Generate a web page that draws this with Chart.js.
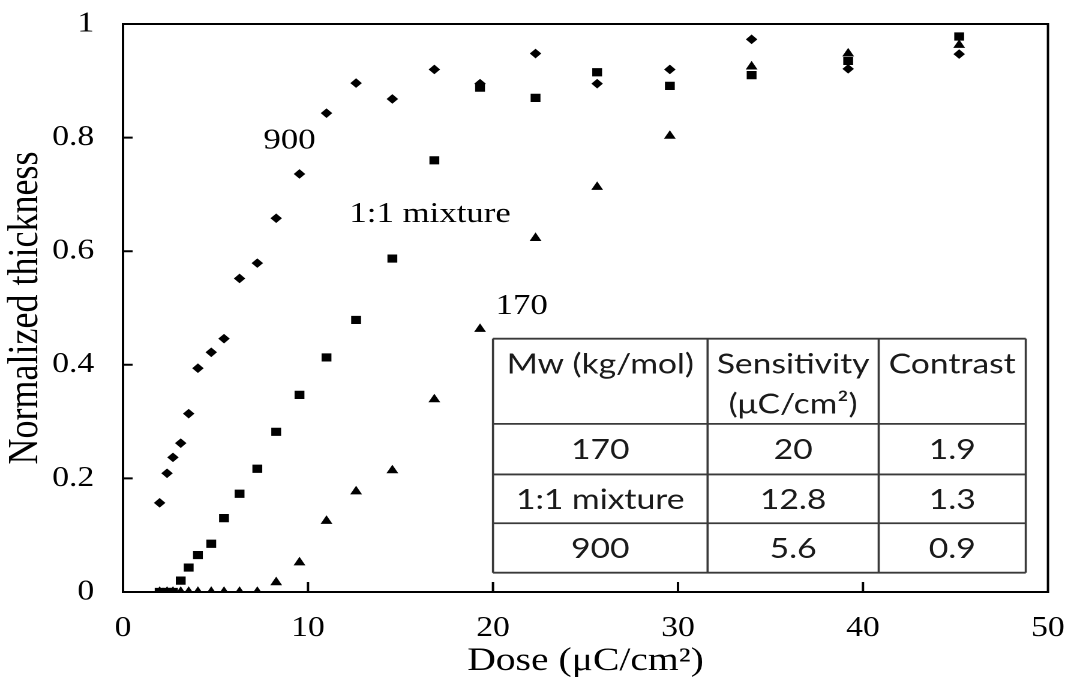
<!DOCTYPE html>
<html>
<head>
<meta charset="utf-8">
<script src="https://cdn.jsdelivr.net/npm/chart.js@4.4.1/dist/chart.umd.min.js"></script>
<style>
  html, body { margin: 0; padding: 0; background: #fff; overflow: hidden; }
  #wrap { position: absolute; left: 0; top: 0; width: 890px; height: 690px;
          transform: scaleX(1.2); transform-origin: 0 0; }
</style>
</head>
<body>
<div id="wrap"><canvas id="c"></canvas></div>
<script>
// ---- data ----
const doses    = [1.98, 2.38, 2.70, 3.12, 3.55, 4.05, 4.77, 5.46, 6.30, 7.26, 8.28, 9.54, 11.0, 12.6, 14.56, 16.83, 19.3, 22.3, 25.63, 29.56, 33.98, 39.2, 45.2];
const thick900 = [0.157, 0.209, 0.237, 0.262, 0.314, 0.394, 0.422, 0.446, 0.552, 0.579, 0.658, 0.736, 0.843, 0.896, 0.868, 0.920, 0.895, 0.948, 0.895, 0.920, 0.973, 0.921, 0.947];
const thickMix = [0, 0, 0, 0.020, 0.043, 0.065, 0.085, 0.130, 0.173, 0.217, 0.282, 0.347, 0.413, 0.479, 0.587, 0.760, 0.888, 0.870, 0.915, 0.891, 0.910, 0.935, 0.978];
const thick170 = [0, 0, 0, 0, 0, 0, 0, 0, 0, 0, 0.017, 0.052, 0.125, 0.177, 0.214, 0.339, 0.463, 0.623, 0.713, 0.803, 0.925, 0.948, 0.963];
const seriesNames = ['900', '1:1 mixture', '170'];
const xTickValues = [0, 10, 20, 30, 40, 50];
const yTickValues = [0, 0.2, 0.4, 0.6, 0.8, 1];
const tableHead   = [['Mw (kg/mol)'], ['Sensitivity', '(\u03BCC/cm\u00B2)'], ['Contrast']];
const tableMw     = ['170', '1:1 mixture', '900'];
const tableSens   = ['20', '12.8', '5.6'];
const tableCon    = ['1.9', '1.3', '0.9'];

// ---- layout / style (not data) ----
const serif = '"Liberation Serif", "Times New Roman", serif';
const sans  = 'Lato, "Open Sans", sans-serif';
const labelAnchors = [[9.0, 0.794], [16.6, 0.665], [21.55, 0.503]];   // where series names are written
const tableCols = [20, 31.6, 40.85, 48.8];          // column edges in dose units
const tableRows = [0.446, 0.296, 0.207, 0.121, 0.034]; // row edges in thickness units

function pts(ys) { return doses.map((d, i) => ({ x: d, y: ys[i] })); }

const framePlugin = {
  id: 'frame',
  afterDatasetsDraw(chart) {
    const { ctx, chartArea: a, scales: { x, y } } = chart;
    ctx.save();
    ctx.strokeStyle = '#000';
    ctx.lineWidth = 2;
    ctx.strokeRect(a.left, a.top, a.right - a.left, a.bottom - a.top);
    // inward tick marks
    ctx.beginPath();
    xTickValues.slice(1, -1).forEach(v => {
      const px = x.getPixelForValue(v);
      ctx.moveTo(px, a.bottom); ctx.lineTo(px, a.bottom - 10);
    });
    yTickValues.slice(1, -1).forEach(v => {
      const py = y.getPixelForValue(v);
      ctx.moveTo(a.left, py); ctx.lineTo(a.left + 8, py);
    });
    ctx.stroke();

    // series name annotations
    ctx.fillStyle = '#000';
    ctx.font = '29px ' + serif;
    ctx.textAlign = 'center';
    ctx.textBaseline = 'middle';
    seriesNames.forEach((n, i) => {
      ctx.fillText(n, x.getPixelForValue(labelAnchors[i][0]), y.getPixelForValue(labelAnchors[i][1]));
    });

    // table
    const cx = tableCols.map(v => x.getPixelForValue(v));
    const ry = tableRows.map(v => y.getPixelForValue(v));
    ctx.fillStyle = '#fff';
    ctx.fillRect(cx[0], ry[0], cx[3] - cx[0], ry[4] - ry[0]);
    ctx.strokeStyle = '#3a3a3a';
    ctx.lineWidth = 1.8;
    ctx.beginPath();
    ry.forEach(py => { ctx.moveTo(cx[0], py); ctx.lineTo(cx[3], py); });
    cx.forEach(px => { ctx.moveTo(px, ry[0]); ctx.lineTo(px, ry[4]); });
    ctx.stroke();

    ctx.fillStyle = '#1a1a1a';
    ctx.font = '28px ' + sans;
    const mid = i => (cx[i] + cx[i + 1]) / 2;
    tableHead.forEach((lines, c) => {
      lines.forEach((t, k) => ctx.fillText(t, mid(c), ry[0] + 26 + k * 40));
    });
    const cols = [tableMw, tableSens, tableCon];
    for (let r = 0; r < 3; r++) {
      const py = (ry[r + 1] + ry[r + 2]) / 2 + 1;
      cols.forEach((col, c) => ctx.fillText(col[r], mid(c), py));
    }
    ctx.restore();
  }
};

new Chart(document.getElementById('c'), {
  type: 'scatter',
  data: {
    datasets: [
      { label: seriesNames[0], data: pts(thick900), pointStyle: 'rectRot', pointRadius: 4.8,
        backgroundColor: '#000', borderColor: '#000', borderWidth: 0 },
      { label: seriesNames[1], data: pts(thickMix), pointStyle: 'rect', pointRadius: 5.8,
        backgroundColor: '#000', borderColor: '#000', borderWidth: 0 },
      { label: seriesNames[2], data: pts(thick170), pointStyle: 'triangle', pointRadius: 5.7,
        backgroundColor: '#000', borderColor: '#000', borderWidth: 0 }
    ]
  },
  options: {
    responsive: true,
    maintainAspectRatio: false,
    animation: false,
    devicePixelRatio: 2,
    layout: { padding: { top: 24, right: 16.7, left: 0, bottom: 0 } },
    plugins: { legend: { display: false }, tooltip: { enabled: false } },
    scales: {
      x: {
        type: 'linear', min: 0, max: 50,
        afterBuildTicks: s => { s.ticks = xTickValues.map(v => ({ value: v })); },
        afterFit: s => { s.height = 98; s.paddingLeft = 0; s.paddingRight = 0; },
        grid: { display: false, drawTicks: false },
        border: { display: false },
        ticks: { color: '#000', font: { family: serif, size: 28 }, padding: 20, maxRotation: 0,
                 callback: v => String(v) },
        title: { display: true, text: 'Dose (\u03BCC/cm\u00B2)', color: '#000',
                 font: { family: serif, size: 33 }, padding: { top: 0, bottom: 9 } }
      },
      y: {
        type: 'linear', min: 0, max: 1,
        afterBuildTicks: s => { s.ticks = yTickValues.map(v => ({ value: v })); },
        afterFit: s => { s.width = 102.5; s.paddingTop = 0; s.paddingBottom = 0; },
        grid: { display: false, drawTicks: false },
        border: { display: false },
        ticks: { color: '#000', font: { family: serif, size: 28 }, padding: 24,
                 callback: v => String(+v.toFixed(1)) },
        title: { display: true, text: 'Normalized thickness', color: '#000',
                 font: { family: serif, size: 36 }, padding: { top: 0, bottom: 0 } }
      }
    }
  },
  plugins: [framePlugin]
});
</script>
</body>
</html>
